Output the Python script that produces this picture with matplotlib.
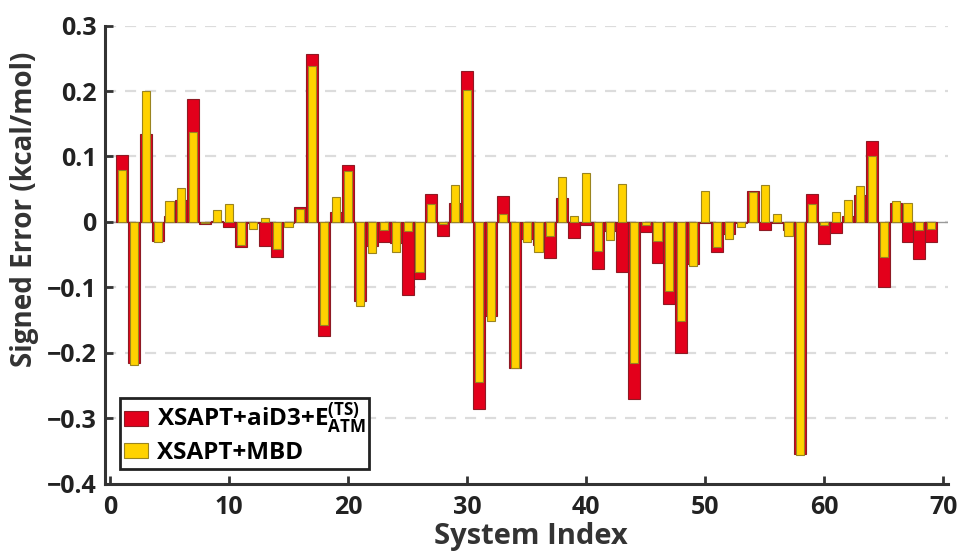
import numpy as np
import matplotlib
matplotlib.use("Agg")
import matplotlib.pyplot as plt

plt.rcParams['font.family'] = ['Open Sans', 'DejaVu Sans']
plt.rcParams['font.weight'] = 'bold'
plt.rcParams['mathtext.fontset'] = 'custom'
plt.rcParams['mathtext.rm'] = 'Open Sans:bold'
plt.rcParams['mathtext.bf'] = 'Open Sans:bold'
plt.rcParams['mathtext.it'] = 'Open Sans:bold'

# signed errors per system (kcal/mol)
system_index = np.arange(1, 70)
err_aid3 = [0.103, -0.215, 0.135, -0.029, 0.009, 0.034, 0.188, -0.003, 0.001, -0.008,
            -0.039, -0.002, -0.037, -0.054, -0.001, 0.023, 0.257, -0.174, 0.015, 0.087,
            -0.121, -0.037, -0.030, -0.033, -0.112, -0.087, 0.042, -0.022, 0.029, 0.231,
            -0.286, -0.144, 0.039, -0.224, -0.026, -0.035, -0.055, 0.036, -0.024, -0.004,
            -0.072, -0.014, -0.076, -0.270, -0.016, -0.063, -0.126, -0.200, -0.065, -0.002,
            -0.046, -0.019, -0.002, 0.048, -0.012, -0.001, -0.013, -0.355, 0.042, -0.034,
            -0.017, 0.009, 0.041, 0.123, -0.099, 0.029, -0.031, -0.057, -0.030]
err_mbd = [0.079, -0.219, 0.200, -0.031, 0.032, 0.052, 0.137, -0.001, 0.018, 0.027,
           -0.035, -0.011, 0.006, -0.041, -0.008, 0.019, 0.238, -0.157, 0.038, 0.078,
           -0.129, -0.048, -0.012, -0.046, -0.014, -0.077, 0.027, -0.003, 0.056, 0.202,
           -0.244, -0.152, 0.012, -0.224, -0.030, -0.046, -0.022, 0.068, 0.009, 0.074,
           -0.044, -0.028, 0.058, -0.216, -0.005, -0.029, -0.106, -0.152, -0.067, 0.048,
           -0.039, -0.026, -0.008, 0.046, 0.057, 0.012, -0.022, -0.356, 0.027, -0.004,
           0.015, 0.033, 0.055, 0.101, -0.054, 0.032, 0.029, -0.013, -0.011]

fig = plt.figure(figsize=(9.63, 5.52), dpi=100)
ax = fig.add_axes([0.109, 0.124, 0.8754, 0.8295])

for y in np.arange(-0.3, 0.31, 0.1):
    ax.axhline(y, color='#dcdcdc', lw=1.6, ls=(0, (5, 4)), zorder=0)

ax.bar(system_index, err_aid3, width=1.0, color='#e3001b', edgecolor='#8e1a24',
       linewidth=0.8, label=r'XSAPT+aiD3+E$_{\mathrm{ATM}}^{\mathrm{(TS)}}$', zorder=2)
ax.bar(system_index, err_mbd, width=0.68, color='#ffd200', edgecolor='#9a8420',
       linewidth=0.8, label='XSAPT+MBD', zorder=3)
ax.axhline(0, color='#9a9a9a', lw=1.0, zorder=1)

ax.set_xlim(-0.42, 70.4)
ax.set_ylim(-0.4, 0.3)
ax.set_xticks(np.arange(0, 71, 10))
ax.set_yticks(np.round(np.arange(-0.4, 0.31, 0.1), 1))
ax.set_yticklabels(['\u22120.4', '\u22120.3', '\u22120.2', '\u22120.1', '0', '0.1', '0.2', '0.3'])

for s in ['top', 'right']:
    ax.spines[s].set_visible(False)
for s in ['left', 'bottom']:
    ax.spines[s].set_linewidth(2.2)
    ax.spines[s].set_color('#333333')
ax.tick_params(direction='in', length=6, width=2, colors='#333333',
               labelsize=18, labelcolor='#222222')
ax.tick_params(axis='y', pad=6)
ax.tick_params(axis='x', pad=8)

ax.set_ylabel('Signed Error (kcal/mol)', fontsize=20, fontweight='bold',
              color='#333333', va='center')
ax.yaxis.set_label_coords(-0.095, 0.6)
ax.set_xlabel('System Index', fontsize=21, fontweight='bold', color='#333333',
              va='top')
ax.xaxis.set_label_coords(0.505, -0.085)

leg = ax.legend(loc='lower left', bbox_to_anchor=(0.018, 0.032), fontsize=17.5,
                frameon=True, fancybox=False, handlelength=1.0, handleheight=0.6,
                handletextpad=0.35, borderpad=0.15, labelspacing=0.2,
                borderaxespad=0)
leg.get_frame().set_edgecolor('#222222')
leg.get_frame().set_linewidth(2)
leg.get_frame().set_alpha(1)

fig.savefig('out.png', dpi=100)
